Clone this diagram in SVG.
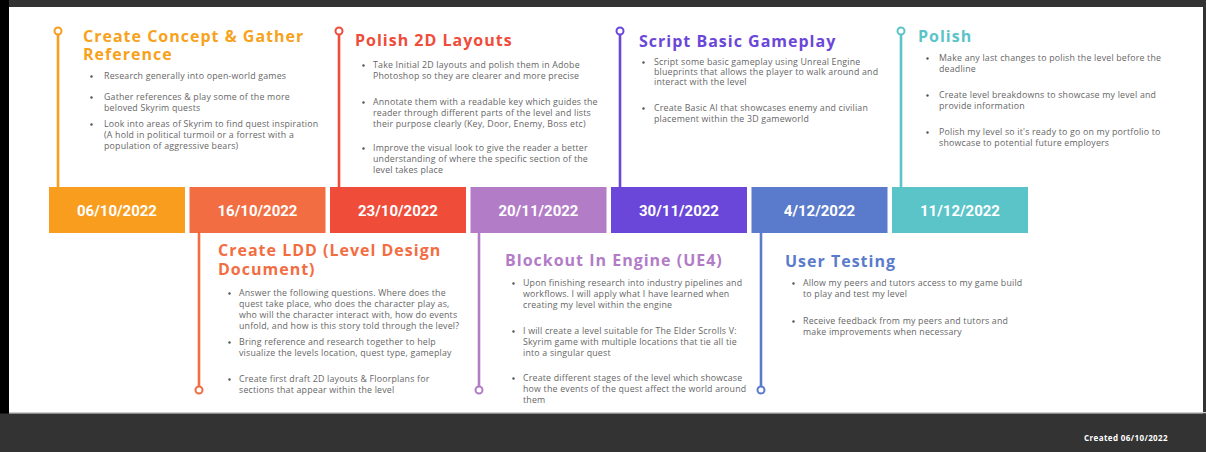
<svg xmlns="http://www.w3.org/2000/svg" width="1206" height="452" viewBox="0 0 1206 452">
<style>
.title{font-family:"Open Sans","Liberation Sans",sans-serif;font-weight:700;font-size:16px;letter-spacing:1px}
.b{font-family:"Open Sans","Liberation Sans",sans-serif;font-size:8.8px;letter-spacing:0.2px;fill:#666}
.date{font-family:Roboto,"Liberation Sans",sans-serif;font-weight:700;font-size:15px;fill:#fff;text-anchor:middle}
.dot{fill:#555}
.stem{stroke-width:2.6;fill:none}
.knob{fill:#fff;stroke-width:2}
.foot{font-family:"Open Sans","Liberation Sans",sans-serif;font-weight:700;font-size:8px;letter-spacing:0.4px;fill:#fff}
</style>
<rect x="0" y="0" width="1206" height="452" fill="#fff"/>
<rect x="0" y="0" width="1206" height="7" fill="#333"/>
<rect x="0" y="0" width="9" height="452" fill="#000"/>
<rect x="1203" y="0" width="3" height="452" fill="#333"/>
<rect x="9" y="412" width="1197" height="1.5" fill="#ccc"/>
<rect x="0" y="413.5" width="1206" height="38.5" fill="#333"/>
<text class="foot" x="1084" y="441">Created 06/10/2022</text>

<g id="connectors">
<line class="stem" x1="58" y1="35" x2="58" y2="187" stroke="#F89D1E"/>
<circle class="knob" cx="58" cy="31" r="3.5" stroke="#F89D1E"/>
<line class="stem" x1="199" y1="233" x2="199" y2="386" stroke="#F36D42"/>
<circle class="knob" cx="199" cy="390" r="3.5" stroke="#F36D42"/>
<line class="stem" x1="339" y1="35" x2="339" y2="187" stroke="#EF4C3A"/>
<circle class="knob" cx="339" cy="31" r="3.5" stroke="#EF4C3A"/>
<line class="stem" x1="479" y1="233" x2="479" y2="386" stroke="#B27CC7"/>
<circle class="knob" cx="479" cy="390" r="3.5" stroke="#B27CC7"/>
<line class="stem" x1="620" y1="35" x2="620" y2="187" stroke="#6A47D8"/>
<circle class="knob" cx="620" cy="31" r="3.5" stroke="#6A47D8"/>
<line class="stem" x1="761" y1="233" x2="761" y2="386" stroke="#5A7BCB"/>
<circle class="knob" cx="761" cy="390" r="3.5" stroke="#5A7BCB"/>
<line class="stem" x1="901" y1="35" x2="901" y2="187" stroke="#5BC4C9"/>
<circle class="knob" cx="901" cy="31" r="3.5" stroke="#5BC4C9"/>
</g>

<g id="m1">
<rect x="49" y="187" width="136" height="46" fill="#F89D1E"/>
<text class="date" x="117" y="215.5">06/10/2022</text>
<text class="title" fill="#F7A21B" x="83" y="42">Create Concept &amp; Gather<tspan x="83" y="60">Reference</tspan></text>
<circle class="dot" cx="91.5" cy="76.5" r="1.2"/>
<text class="b" x="104" y="79">Research generally into open-world games</text>
<circle class="dot" cx="91.5" cy="97.5" r="1.2"/>
<text class="b" x="104" y="100">Gather references &amp; play some of the more</text>
<text class="b" x="104" y="111">beloved Skyrim quests</text>
<circle class="dot" cx="91.5" cy="124.5" r="1.2"/>
<text class="b" x="104" y="127">Look into areas of Skyrim to find quest inspiration</text>
<text class="b" x="104" y="138">(A hold in political turmoil or a forrest with a</text>
<text class="b" x="104" y="149">population of aggressive bears)</text>
</g>

<g id="m2">
<rect x="189.5" y="187" width="136" height="46" fill="#F36D42"/>
<text class="date" x="257.5" y="215.5">16/10/2022</text>
<text class="title" fill="#F36D42" x="218" y="256">Create LDD (Level Design<tspan x="218" y="275">Document)</tspan></text>
<circle class="dot" cx="229.5" cy="293.5" r="1.2"/>
<text class="b" x="239" y="296">Answer the following questions. Where does the</text>
<text class="b" x="239" y="307">quest take place, who does the character play as,</text>
<text class="b" x="239" y="318">who will the character interact with, how do events</text>
<text class="b" x="239" y="329">unfold, and how is this story told through the level?</text>
<circle class="dot" cx="229.5" cy="342.5" r="1.2"/>
<text class="b" x="239" y="345">Bring reference and research together to help</text>
<text class="b" x="239" y="356">visualize the levels location, quest type, gameplay</text>
<circle class="dot" cx="229.5" cy="379.5" r="1.2"/>
<text class="b" x="239" y="382">Create first draft 2D layouts &amp; Floorplans for</text>
<text class="b" x="239" y="393">sections that appear within the level</text>
</g>

<g id="m3">
<rect x="330" y="187" width="136" height="46" fill="#EF4C3A"/>
<text class="date" x="398" y="215.5">23/10/2022</text>
<text class="title" fill="#EF4C3A" x="355" y="46">Polish 2D Layouts</text>
<circle class="dot" cx="363.5" cy="65.5" r="1.2"/>
<text class="b" x="373" y="68">Take Initial 2D layouts and polish them in Adobe</text>
<text class="b" x="373" y="79">Photoshop so they are clearer and more precise</text>
<circle class="dot" cx="363.5" cy="102.5" r="1.2"/>
<text class="b" x="373" y="105">Annotate them with a readable key which guides the</text>
<text class="b" x="373" y="116">reader through different parts of the level and lists</text>
<text class="b" x="373" y="127">their purpose clearly (Key, Door, Enemy, Boss etc)</text>
<circle class="dot" cx="363.5" cy="148.5" r="1.2"/>
<text class="b" x="373" y="151">Improve the visual look to give the reader a better</text>
<text class="b" x="373" y="162">understanding of where the specific section of the</text>
<text class="b" x="373" y="173">level takes place</text>
</g>

<g id="m4">
<rect x="470.5" y="187" width="136" height="46" fill="#B27CC7"/>
<text class="date" x="538.5" y="215.5">20/11/2022</text>
<text class="title" fill="#B27CC7" x="505" y="266">Blockout In Engine (UE4)</text>
<circle class="dot" cx="513.5" cy="283.5" r="1.2"/>
<text class="b" x="523" y="286">Upon finishing research into industry pipelines and</text>
<text class="b" x="523" y="297">workflows. I will apply what I have learned when</text>
<text class="b" x="523" y="308">creating my level within the engine</text>
<circle class="dot" cx="513.5" cy="331.5" r="1.2"/>
<text class="b" x="523" y="334">I will create a level suitable for The Elder Scrolls V:</text>
<text class="b" x="523" y="345">Skyrim game with multiple locations that tie all tie</text>
<text class="b" x="523" y="356">into a singular quest</text>
<circle class="dot" cx="513.5" cy="378.5" r="1.2"/>
<text class="b" x="523" y="381">Create different stages of the level which showcase</text>
<text class="b" x="523" y="392">how the events of the quest affect the world around</text>
<text class="b" x="523" y="403">them</text>
</g>

<g id="m5">
<rect x="611" y="187" width="136" height="46" fill="#6A47D8"/>
<text class="date" x="679" y="215.5">30/11/2022</text>
<text class="title" fill="#6A47D8" x="639" y="47">Script Basic Gameplay</text>
<circle class="dot" cx="643.5" cy="62.5" r="1.2"/>
<text class="b" x="654" y="65">Script some basic gameplay using Unreal Engine</text>
<text class="b" x="654" y="75">blueprints that allows the player to walk around and</text>
<text class="b" x="654" y="85">interact with the level</text>
<circle class="dot" cx="643.5" cy="108.5" r="1.2"/>
<text class="b" x="654" y="111">Create Basic AI that showcases enemy and civilian</text>
<text class="b" x="654" y="122">placement within the 3D gameworld</text>
</g>

<g id="m6">
<rect x="751.5" y="187" width="136" height="46" fill="#5A7BCB"/>
<text class="date" x="819.5" y="215.5">4/12/2022</text>
<text class="title" fill="#5A7BCB" x="785" y="267">User Testing</text>
<circle class="dot" cx="793.5" cy="283.5" r="1.2"/>
<text class="b" x="803" y="286">Allow my peers and tutors access to my game build</text>
<text class="b" x="803" y="297">to play and test my level</text>
<circle class="dot" cx="793.5" cy="321.5" r="1.2"/>
<text class="b" x="803" y="324">Receive feedback from my peers and tutors and</text>
<text class="b" x="803" y="335">make improvements when necessary</text>
</g>

<g id="m7">
<rect x="892" y="187" width="136" height="46" fill="#5BC4C9"/>
<text class="date" x="960" y="215.5">11/12/2022</text>
<text class="title" fill="#5BC4C9" x="918" y="42">Polish</text>
<circle class="dot" cx="927.5" cy="58.5" r="1.2"/>
<text class="b" x="939" y="61">Make any last changes to polish the level before the</text>
<text class="b" x="939" y="72">deadline</text>
<circle class="dot" cx="927.5" cy="95.5" r="1.2"/>
<text class="b" x="939" y="98">Create level breakdowns to showcase my level and</text>
<text class="b" x="939" y="109">provide information</text>
<circle class="dot" cx="927.5" cy="132.5" r="1.2"/>
<text class="b" x="939" y="135">Polish my level so it's ready to go on my portfolio to</text>
<text class="b" x="939" y="146">showcase to potential future employers</text>
</g>
</svg>
